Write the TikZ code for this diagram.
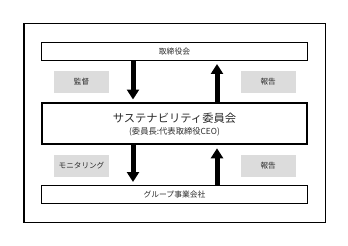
\documentclass[tikz,border=0pt]{standalone}
\usepackage{fontspec}
\setmainfont{Noto Sans CJK JP}
\usetikzlibrary{arrows.meta}
\definecolor{lbl}{HTML}{DCDCDC}
\definecolor{txt}{HTML}{2A2A2A}
\tikzset{
  rowbox/.style={draw=black, line width=1.5pt, minimum width=265.6pt, minimum height=18pt, inner sep=0pt, font=\fontsize{7.8}{9}\selectfont, text=txt},
  midbox/.style={draw=black, line width=2.2pt, minimum width=265.6pt, minimum height=40.7pt, inner sep=0pt, align=center, text=txt},
  graybox/.style={fill=lbl, minimum width=55pt, minimum height=22pt, inner sep=0pt, font=\fontsize{7.6}{9}\selectfont, text=txt},
  fat/.style={line width=5pt, -{Triangle[width=12pt,length=10pt]}},
}
\begin{document}
\begin{tikzpicture}[x=1pt,y=-1pt]
\useasboundingbox (0,0) rectangle (348,246);
\node[draw=black, line width=1.5pt, minimum width=301.7pt, minimum height=199.4pt, inner sep=0pt] (outer) at (174.85,123) {};
\node[rowbox] (top) at (174.5,51.7) {取締役会};
\node[midbox] (mid) at (174.5,123.65) {};
\node[font=\fontsize{11.3}{13}\selectfont, text=txt, inner sep=0pt] (title) at (174.5,118.3) {サステナビリティ委員会};
\node[font=\fontsize{8.3}{10}\selectfont, text=txt, inner sep=0pt] (sub) at (174.5,132.3) {(委員長:代表取締役CEO)};
\node[rowbox] (bot) at (174.5,194.5) {グループ事業会社};
\node[graybox] (g1) at (81.5,81.7) {監督};
\node[graybox] (g2) at (268.2,81.7) {報告};
\node[graybox] (g3) at (81.5,165.5) {モニタリング};
\node[graybox] (g4) at (268.2,165.5) {報告};
\coordinate (d1) at (133,99.5);
\coordinate (u1) at (217,64);
\coordinate (d2) at (133,182);
\coordinate (u2) at (217,148.3);
\draw[fat] (top.south -| d1) -- (d1);
\draw[fat] (mid.north -| u1) -- (u1);
\draw[fat] (mid.south -| d2) -- (d2);
\draw[fat] (bot.north -| u2) -- (u2);
\end{tikzpicture}
\end{document}
